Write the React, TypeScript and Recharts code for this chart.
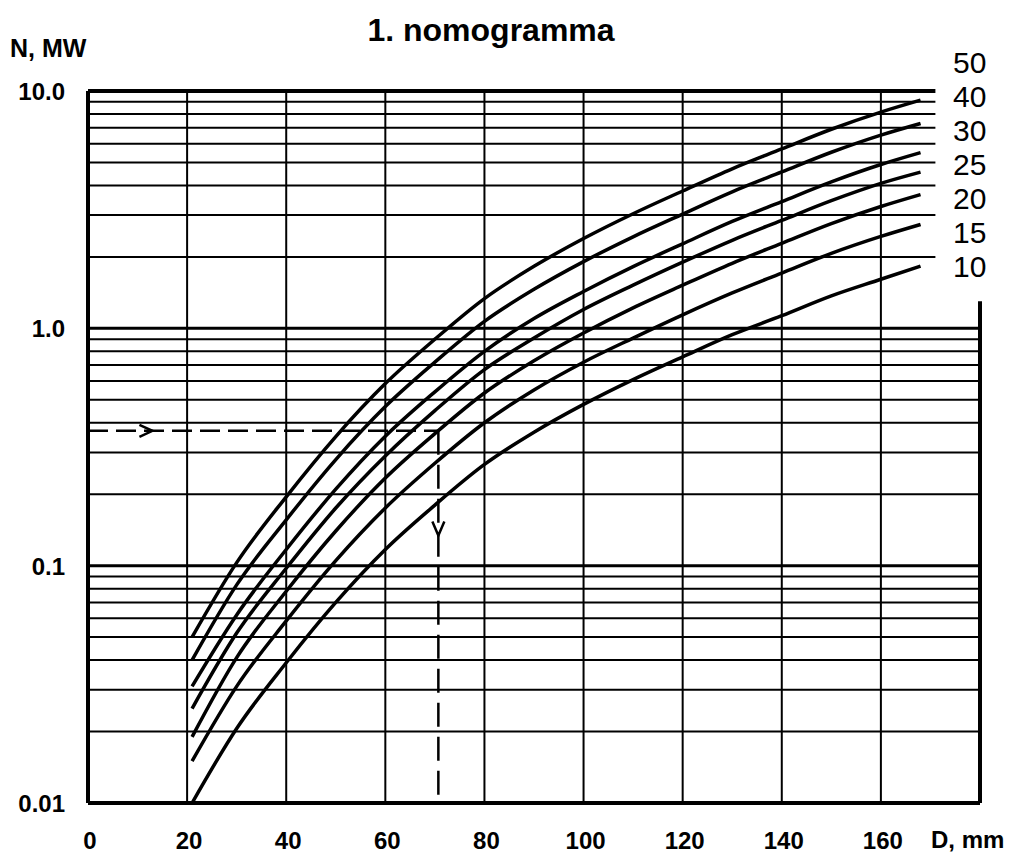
import React from 'react'
import {
  ComposedChart,
  Line,
  XAxis,
  YAxis,
  ReferenceLine,
  ReferenceDot,
} from 'recharts'

// D, mm sample points along each curve
const diameters = [21, 30, 40, 50, 60, 70, 80, 90, 100, 110, 120, 130, 140, 150, 160, 168]

// N, MW for each curve
const n50 = [0.05, 0.103, 0.195, 0.35, 0.585, 0.9, 1.335, 1.825, 2.39, 3.04, 3.79, 4.7, 5.7, 6.9, 8.15, 9.15]
const n40 = [0.04, 0.083, 0.156, 0.28, 0.468, 0.72, 1.07, 1.46, 1.91, 2.43, 3.03, 3.76, 4.56, 5.52, 6.52, 7.3]
const n30 = [0.031, 0.062, 0.117, 0.21, 0.351, 0.54, 0.8, 1.1, 1.43, 1.82, 2.27, 2.82, 3.42, 4.14, 4.9, 5.5]
const n25 = [0.025, 0.052, 0.0975, 0.175, 0.29, 0.45, 0.67, 0.91, 1.2, 1.52, 1.9, 2.35, 2.85, 3.45, 4.08, 4.55]
const n20 = [0.019, 0.041, 0.078, 0.14, 0.234, 0.36, 0.534, 0.73, 0.956, 1.22, 1.52, 1.88, 2.28, 2.76, 3.26, 3.66]
const n15 = [0.015, 0.031, 0.0585, 0.105, 0.175, 0.27, 0.4, 0.55, 0.72, 0.91, 1.14, 1.41, 1.71, 2.07, 2.44, 2.74]
const n10 = [0.01, 0.0206, 0.039, 0.07, 0.117, 0.18, 0.267, 0.365, 0.478, 0.608, 0.758, 0.94, 1.13, 1.37, 1.61, 1.83]

const curveLabels = ['50', '40', '30', '25', '20', '15', '10']
const curves = [n50, n40, n30, n25, n20, n15, n10]

const xTicks = [0, 20, 40, 60, 80, 100, 120, 140, 160]
const xGrid = [20, 40, 60, 80, 100, 120, 140, 160]
const yTicks = [0.01, 0.1, 1, 10]
const yTickLabels = ['0.01', '0.1', '1.0', '10.0']
const upperMinor = [2, 3, 4, 5, 6, 7, 8, 9]
const lowerMinor = [
  0.02, 0.03, 0.04, 0.05, 0.06, 0.07, 0.08, 0.09,
  0.2, 0.3, 0.4, 0.5, 0.6, 0.7, 0.8, 0.9,
]

// worked example: N = 0.37 MW -> D ~ 70.7 mm
const exampleN = 0.37
const exampleD = 70.7
const arrowRight = { d: 13, n: 0.37 }
const arrowDown = { d: 70.7, n: 0.134 }

const FONT = '"Liberation Sans", Arial, Helvetica, sans-serif'

const rowsFor = (values: number[]) => diameters.map((d, i) => ({ d, n: values[i] }))

const Chevron = ({ cx, cy, dir }: { cx?: number; cy?: number; dir: 'right' | 'down' }) => {
  if (cx == null || cy == null) return null
  const pts =
    dir === 'right'
      ? `${cx - 13},${cy - 6} ${cx},${cy} ${cx - 13},${cy + 6}`
      : `${cx - 6},${cy - 14} ${cx},${cy} ${cx + 6},${cy - 14}`
  return <polyline points={pts} fill="none" stroke="#000" strokeWidth={2.5} />
}

export default function App() {
  return (
    <div
      style={{
        position: 'absolute',
        left: 0,
        top: 0,
        width: 1012,
        height: 853,
        background: '#fff',
        fontFamily: FONT,
      }}
    >
      <div
        style={{
          position: 'absolute',
          left: 0,
          width: 982,
          top: 10,
          textAlign: 'center',
          fontSize: 32,
          lineHeight: '40px',
          fontWeight: 'bold',
        }}
      >
        1. nomogramma
      </div>
      <div style={{ position: 'absolute', left: 10, top: 33, fontSize: 25, lineHeight: '30px', fontWeight: 'bold' }}>
        N, MW
      </div>
      <div style={{ position: 'absolute', left: 931, top: 825, fontSize: 24, lineHeight: '30px', fontWeight: 'bold' }}>
        D, mm
      </div>
      {curveLabels.map((l, i) => (
        <div
          key={l}
          style={{
            position: 'absolute',
            left: 953,
            top: 45 + i * 34,
            fontSize: 30,
            lineHeight: '36px',
          }}
        >
          {l}
        </div>
      ))}

      <ComposedChart width={1012} height={853} margin={{ top: 91, right: 32, bottom: 10, left: 0 }}>
        <XAxis
          type="number"
          dataKey="d"
          domain={[0, 180]}
          ticks={xTicks}
          axisLine={false}
          tickLine={false}
          height={40}
          allowDataOverflow
          tick={(p: any) => (
            <text
              x={p.x + 2}
              y={849}
              textAnchor="middle"
              fontSize={24}
              fontWeight="bold"
              fontFamily={FONT}
              fill="#000"
            >
              {p.payload.value}
            </text>
          )}
        />
        <YAxis
          type="number"
          scale="log"
          domain={[0.01, 10]}
          ticks={yTicks}
          axisLine={false}
          tickLine={false}
          width={88}
          allowDataOverflow
          tick={(p: any) => (
            <text
              x={65}
              y={p.y + 9}
              textAnchor="end"
              fontSize={24}
              fontWeight="bold"
              fontFamily={FONT}
              fill="#000"
            >
              {yTickLabels[yTicks.indexOf(p.payload.value)]}
            </text>
          )}
        />

        {upperMinor.map((v) => (
          <ReferenceLine
            key={'u' + v}
            segment={[{ x: 0, y: v }, { x: 171, y: v }]}
            stroke="#000"
            strokeWidth={2}
          />
        ))}
        {lowerMinor.map((v) => (
          <ReferenceLine key={'l' + v} y={v} stroke="#000" strokeWidth={2} />
        ))}
        {xGrid.map((v) => (
          <ReferenceLine key={'x' + v} x={v} stroke="#000" strokeWidth={2} />
        ))}
        <ReferenceLine y={1} stroke="#000" strokeWidth={3} />
        <ReferenceLine y={0.1} stroke="#000" strokeWidth={3} />
        <ReferenceLine y={0.01} stroke="#000" strokeWidth={4} />
        <ReferenceLine segment={[{ x: 0, y: 10 }, { x: 171, y: 10 }]} stroke="#000" strokeWidth={4} />
        <ReferenceLine x={0} stroke="#000" strokeWidth={4} />
        <ReferenceLine segment={[{ x: 180, y: 0.01 }, { x: 180, y: 1.3 }]} stroke="#000" strokeWidth={4} />

        <ReferenceLine
          segment={[{ x: 0, y: exampleN }, { x: exampleD, y: exampleN }]}
          stroke="#000"
          strokeWidth={2.5}
          strokeDasharray="20 8"
        />
        <ReferenceLine
          segment={[{ x: exampleD, y: exampleN }, { x: exampleD, y: 0.01 }]}
          stroke="#000"
          strokeWidth={2.5}
          strokeDasharray="24 10"
        />
        <ReferenceDot
          x={arrowRight.d}
          y={arrowRight.n}
          r={0}
          shape={(p: any) => <Chevron cx={p.cx} cy={p.cy} dir="right" />}
        />
        <ReferenceDot
          x={arrowDown.d}
          y={arrowDown.n}
          r={0}
          shape={(p: any) => <Chevron cx={p.cx} cy={p.cy} dir="down" />}
        />

        {curves.map((vals, i) => (
          <Line
            key={curveLabels[i]}
            data={rowsFor(vals)}
            dataKey="n"
            type="monotone"
            stroke="#000"
            strokeWidth={3.5}
            dot={false}
            activeDot={false}
            isAnimationActive={false}
          />
        ))}
      </ComposedChart>
    </div>
  )
}
